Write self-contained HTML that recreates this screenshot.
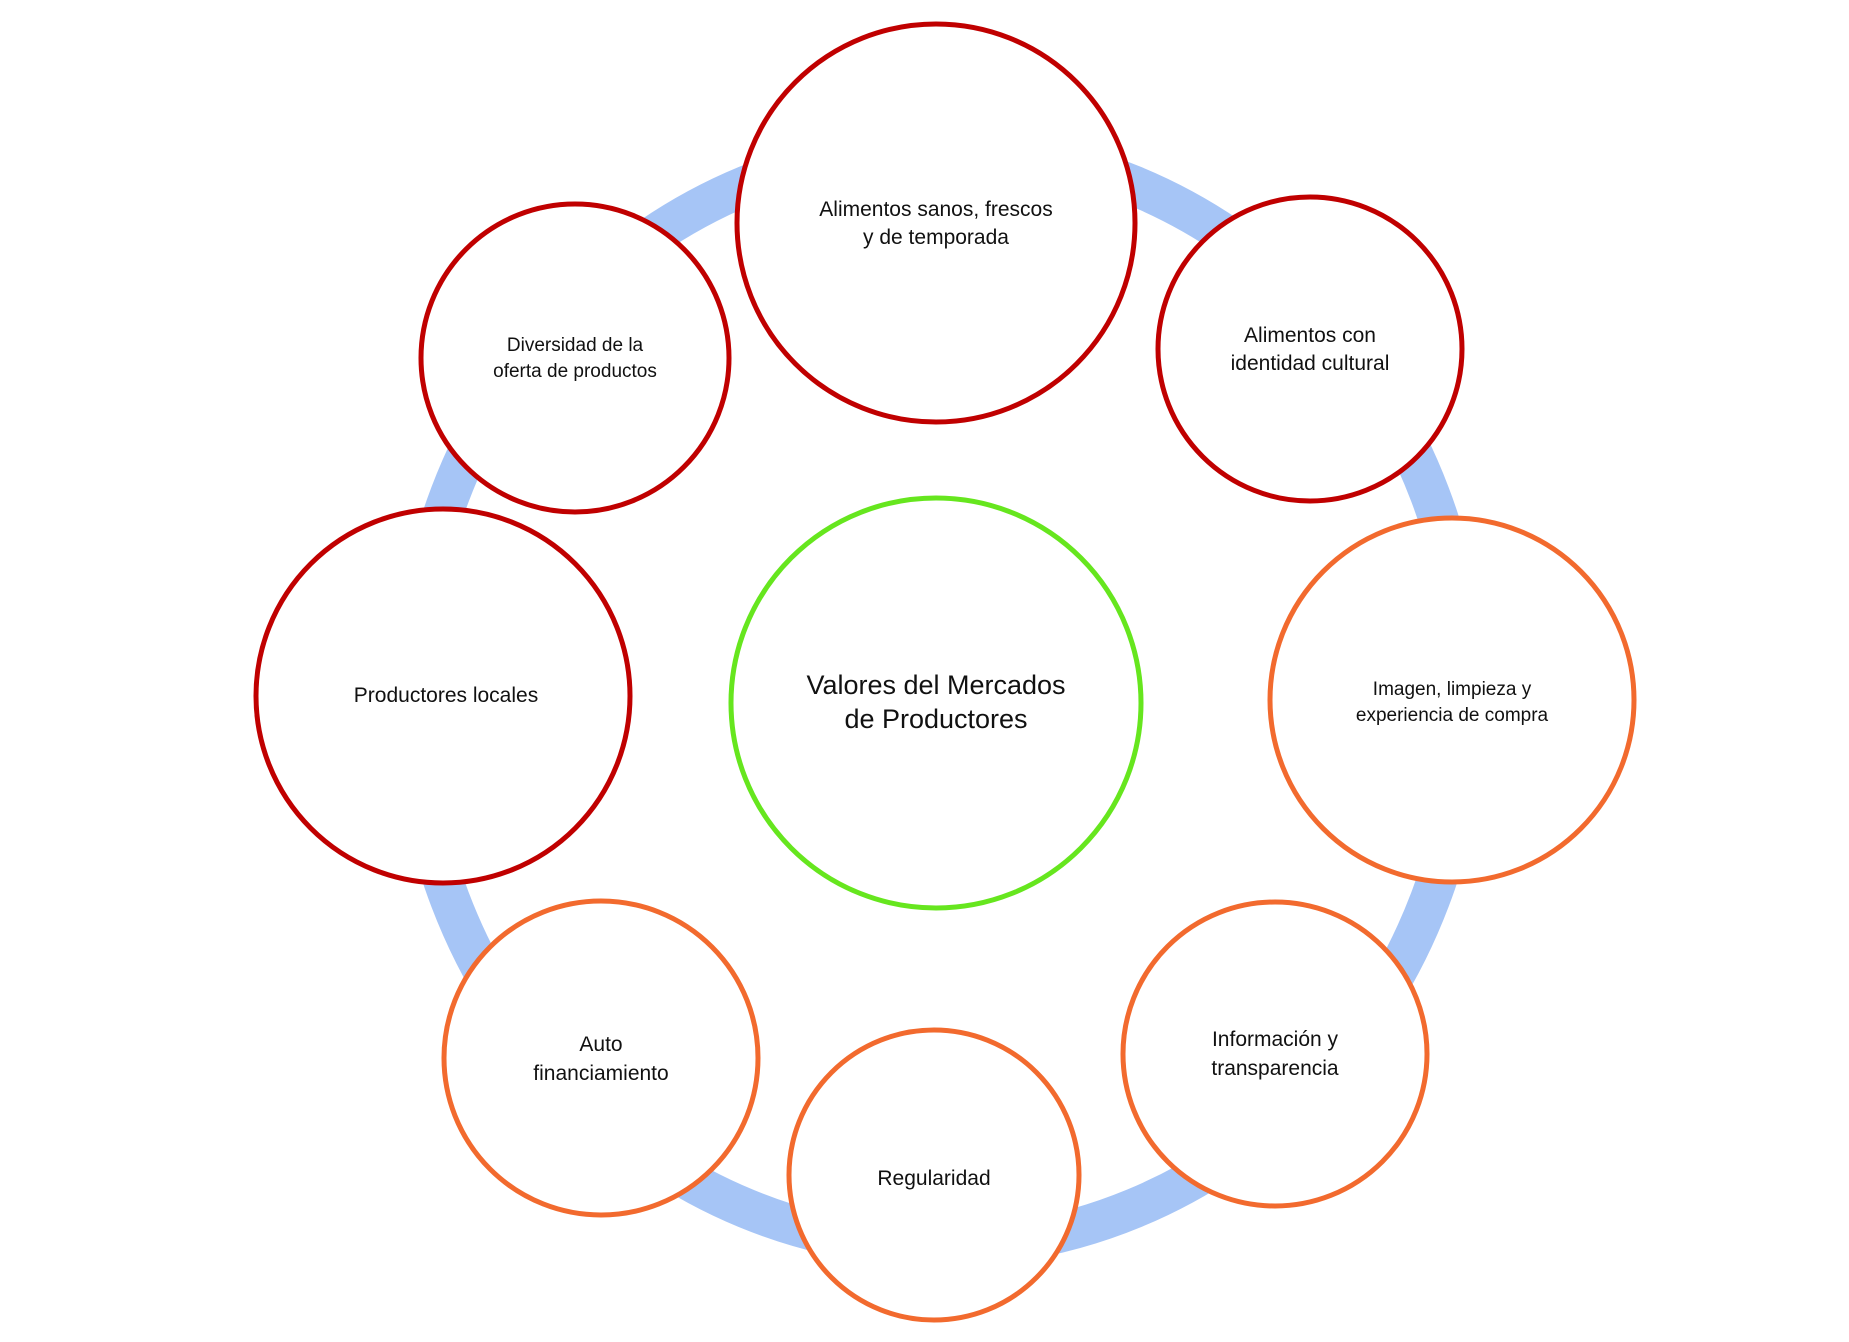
<!DOCTYPE html>
<html><head><meta charset="utf-8"><style>
html,body{margin:0;padding:0;background:#fff;width:1849px;height:1342px;overflow:hidden}
text{font-family:"Liberation Sans",sans-serif;fill:#111;text-anchor:middle}
</style></head><body>
<svg width="1849" height="1342" viewBox="0 0 1849 1342">
<ellipse cx="940" cy="697" rx="527" ry="550" fill="none" stroke="#A6C5F6" stroke-width="40"/>
<g fill="#fff" stroke-width="5">
<circle cx="936" cy="703" r="205" stroke="#66E61E"/>
<circle cx="936" cy="223" r="199" stroke="#C00000"/>
<circle cx="1310" cy="349" r="152" stroke="#C00000"/>
<circle cx="1452" cy="700" r="182" stroke="#F26A2E"/>
<circle cx="1275" cy="1054" r="152" stroke="#F26A2E"/>
<circle cx="934" cy="1175" r="145" stroke="#F26A2E"/>
<circle cx="601" cy="1058" r="157" stroke="#F26A2E"/>
<circle cx="443" cy="696" r="187" stroke="#C00000"/>
<circle cx="575" cy="358" r="154" stroke="#C00000"/>
</g>
<g font-size="27"><text x="936" y="694">Valores del Mercados</text><text x="936" y="728">de Productores</text></g>
<g font-size="21">
<text x="936" y="216">Alimentos sanos, frescos</text><text x="936" y="244">y de temporada</text>
<text x="1310" y="342">Alimentos con</text><text x="1310" y="370">identidad cultural</text>
<text x="446" y="702">Productores locales</text>
<text x="1275" y="1046">Información y</text><text x="1275" y="1075">transparencia</text>
<text x="934" y="1185">Regularidad</text>
<text x="601" y="1051">Auto</text><text x="601" y="1080">financiamiento</text>
</g>
<g font-size="19">
<text x="1452" y="695">Imagen, limpieza  y</text><text x="1452" y="721">experiencia de compra</text>
<text x="575" y="351">Diversidad de la</text><text x="575" y="377">oferta de productos</text>
</g>
</svg>
</body></html>
